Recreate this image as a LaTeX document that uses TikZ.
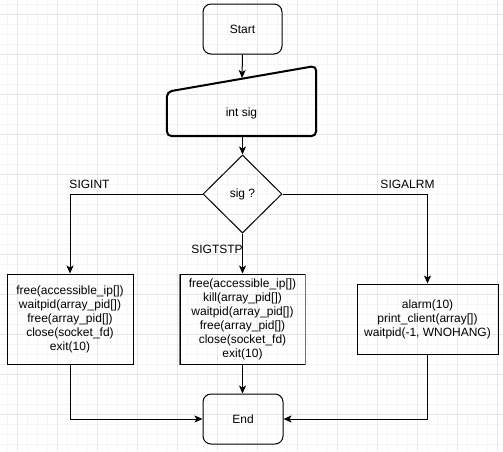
\documentclass[tikz,border=0pt]{standalone}
\usepackage{fontspec}
\setmainfont{Liberation Sans}
\usetikzlibrary{shapes.geometric,arrows.meta}
\definecolor{gridminor}{HTML}{F5F5F5}
\definecolor{gridmajor}{HTML}{E6E6E6}
\begin{document}
\begin{tikzpicture}[x=1pt,y=-1pt,
  every node/.style={font=\fontsize{12}{14}\selectfont, inner sep=0pt},
  terminal/.style={draw, line width=1pt, rounded corners=8pt, align=center},
  procbox/.style={draw, line width=1pt, align=center},
  decision/.style={draw, line width=1pt, diamond, minimum width=79, minimum height=78},
  flow/.style={line width=1pt, -{Stealth[length=8pt,width=7pt,inset=2pt]}},
  lbl/.style={anchor=center}]
  \useasboundingbox (0,0) rectangle (503,451);
  % background grid
  \fill[white] (0,0) rectangle (503,451);
  \foreach \x in {7,17,...,503} \draw[gridminor, line width=0.8pt] (\x,0) -- (\x,451);
  \foreach \y in {4,14,...,451} \draw[gridminor, line width=0.8pt] (0,\y) -- (503,\y);
  \foreach \x in {17,57,...,503} \draw[gridmajor, line width=0.8pt] (\x,0) -- (\x,451);
  \foreach \y in {14,54,...,451} \draw[gridmajor, line width=0.8pt] (0,\y) -- (503,\y);

  % nodes
  \node[terminal, minimum width=79, minimum height=50] (start) at (242.5,29) {Start};
  \node[minimum width=149, minimum height=70] (input) at (241.5,101) {};
  \node (inputtext) at (241.5,113) {int sig};
  \coordinate (intop) at (242,78);
  \node[decision] (sig) at (242.5,194) {sig ?};
  \node[procbox, minimum width=126, minimum height=90] (left) at (70,319)
    {free(accessible\_ip[])\\waitpid(array\_pid[])\\free(array\_pid[])\\close(socket\_fd)\\exit(10)};
  \node[procbox, minimum width=125, minimum height=90] (mid) at (242.5,319)
    {free(accessible\_ip[])\\kill(array\_pid[])\\waitpid(array\_pid[])\\free(array\_pid[])\\close(socket\_fd)\\exit(10)};
  \node[procbox, minimum width=141, minimum height=70] (right) at (427.5,319)
    {alarm(10)\\print\_client(array[])\\waitpid(-1, WNOHANG)};
  \node[terminal, minimum width=80, minimum height=50] (end) at (243,419) {End};

  % manual input outline: slanted top, higher on the right
  \draw[line width=2pt, rounded corners=5pt]
    (input.south west) -- ([yshift=-26pt]input.north west) -- (input.north east)
    -- (input.south east) -- cycle;
  % grey side edges of the middle box
  \draw[black!55, line width=1.8pt] (mid.north west) -- (mid.south west);
  \draw[black!55, line width=1.8pt] (mid.north east) -- (mid.south east);

  % connectors
  \draw[flow] (start.south) -- (intop);
  \draw[flow] (input.south -| sig.north) -- (sig.north);
  \draw[flow] (sig.west) -| (left.north);
  \draw[flow] (sig.east) -| (right.north);
  \draw[flow] (sig.south) -- (mid.north -| sig.south);
  \draw[flow] (left.south) |- (end.west);
  \draw[flow] (mid.south) -- (end.north -| mid.south);
  \draw[flow] (right.south) |- (end.east);

  % branch labels
  \node[lbl] (lint) at (89.5,184) {SIGINT};
  \node[lbl] (lalrm) at (407.5,184) {SIGALRM};
  \node[lbl] (ltstp) at (217,249) {SIGTSTP};
\end{tikzpicture}
\end{document}
